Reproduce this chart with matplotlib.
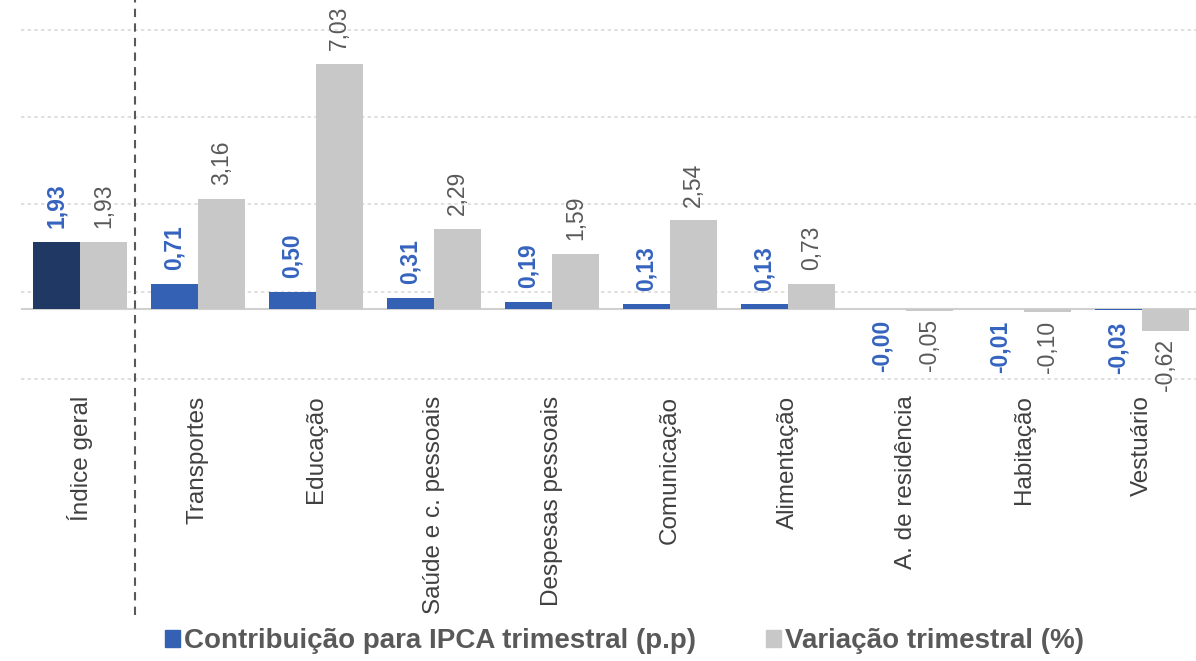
import numpy as np
import matplotlib
matplotlib.use("Agg")
import matplotlib.pyplot as plt
from matplotlib.patches import Patch

#-----------------------------#
#            Data
#-----------------------------#

categories = ['Índice geral', 'Transportes', 'Educação', 'Saúde e c. pessoais',
              'Despesas pessoais', 'Comunicação', 'Alimentação',
              'A. de residência', 'Habitação', 'Vestuário']
contribuicao = [1.93, 0.71, 0.50, 0.31, 0.19, 0.13, 0.13, -0.0, -0.01, -0.03]
variacao = [1.93, 3.16, 7.03, 2.29, 1.59, 2.54, 0.73, -0.05, -0.10, -0.62]
grid_levels = [-2, 0.5, 3, 5.5, 8]

legend_labels = ['Contribuição para IPCA trimestral (p.p)', 'Variação trimestral (%)']

#-----------------------------#
#            Style
#-----------------------------#

plt.rcParams['font.family'] = ['Liberation Sans', 'DejaVu Sans']

BLUE = '#3461b4'
NAVY = '#1f3864'
GREY = '#c8c8c8'
BLUE_TXT = '#3563be'
GREY_TXT = '#595959'


def fmt(v):
    return f"{v:.2f}".replace('.', ',')


#-----------------------------#
#            Plot
#-----------------------------#

fig = plt.figure(figsize=(11.96, 6.61), dpi=100)
ax = fig.add_axes([21 / 1196, 271 / 661, 1175 / 1196, 390 / 661])

x = np.arange(len(categories))
w = 0.4
blue_colors = [NAVY] + [BLUE] * (len(categories) - 1)

ax.bar(x - w / 2, contribuicao, w, color=blue_colors, zorder=3)
ax.bar(x + w / 2, variacao, w, color=GREY, zorder=3)

# value labels
for xi, v in zip(x, contribuicao):
    neg = np.signbit(v)
    ax.annotate(fmt(v), (xi - w / 2, v), xytext=(0, -8 if neg else 10),
                textcoords='offset points', rotation=90, ha='center',
                va='top' if neg else 'bottom', fontsize=16.5,
                fontweight='bold', color=BLUE_TXT)
for xi, v in zip(x, variacao):
    neg = np.signbit(v)
    ax.annotate(fmt(v), (xi + w / 2, v), xytext=(0, -6 if neg else 10),
                textcoords='offset points', rotation=90, ha='center',
                va='top' if neg else 'bottom', fontsize=16.5,
                color=GREY_TXT)

ax.set_xlim(-0.5, 9.458)
ax.set_ylim(-2.324, 8.867)

ax.set_yticks(grid_levels)
ax.yaxis.grid(True, linestyle=(0, (2, 2)), color='#d9d9d9', lw=1.2, zorder=0)
ax.axhline(0, color='#d0d0d0', lw=1.5, zorder=2)

# separator between the general index and the groups
ax.axvline(0.47, ymin=-0.577, ymax=1, color='#595959', lw=1.5,
           linestyle=(0, (4, 3)), clip_on=False, zorder=4)

ax.set_xticks(x)
ax.set_xticklabels(categories, rotation=90, fontsize=17.5, color='#404040')
ax.tick_params(axis='x', length=0, pad=4)
ax.tick_params(axis='y', length=0, labelleft=False)
for s in ax.spines.values():
    s.set_visible(False)

handles = [Patch(color=BLUE), Patch(color=GREY)]
fig.legend(handles, legend_labels, loc='center', bbox_to_anchor=(0.522, 0.03),
           ncol=2, frameon=False, handlelength=0.55, handleheight=0.55,
           handletextpad=0.15, columnspacing=2.5,
           prop={'size': 20, 'weight': 'bold'}, labelcolor=GREY_TXT)

fig.savefig('out.png', dpi=100)
